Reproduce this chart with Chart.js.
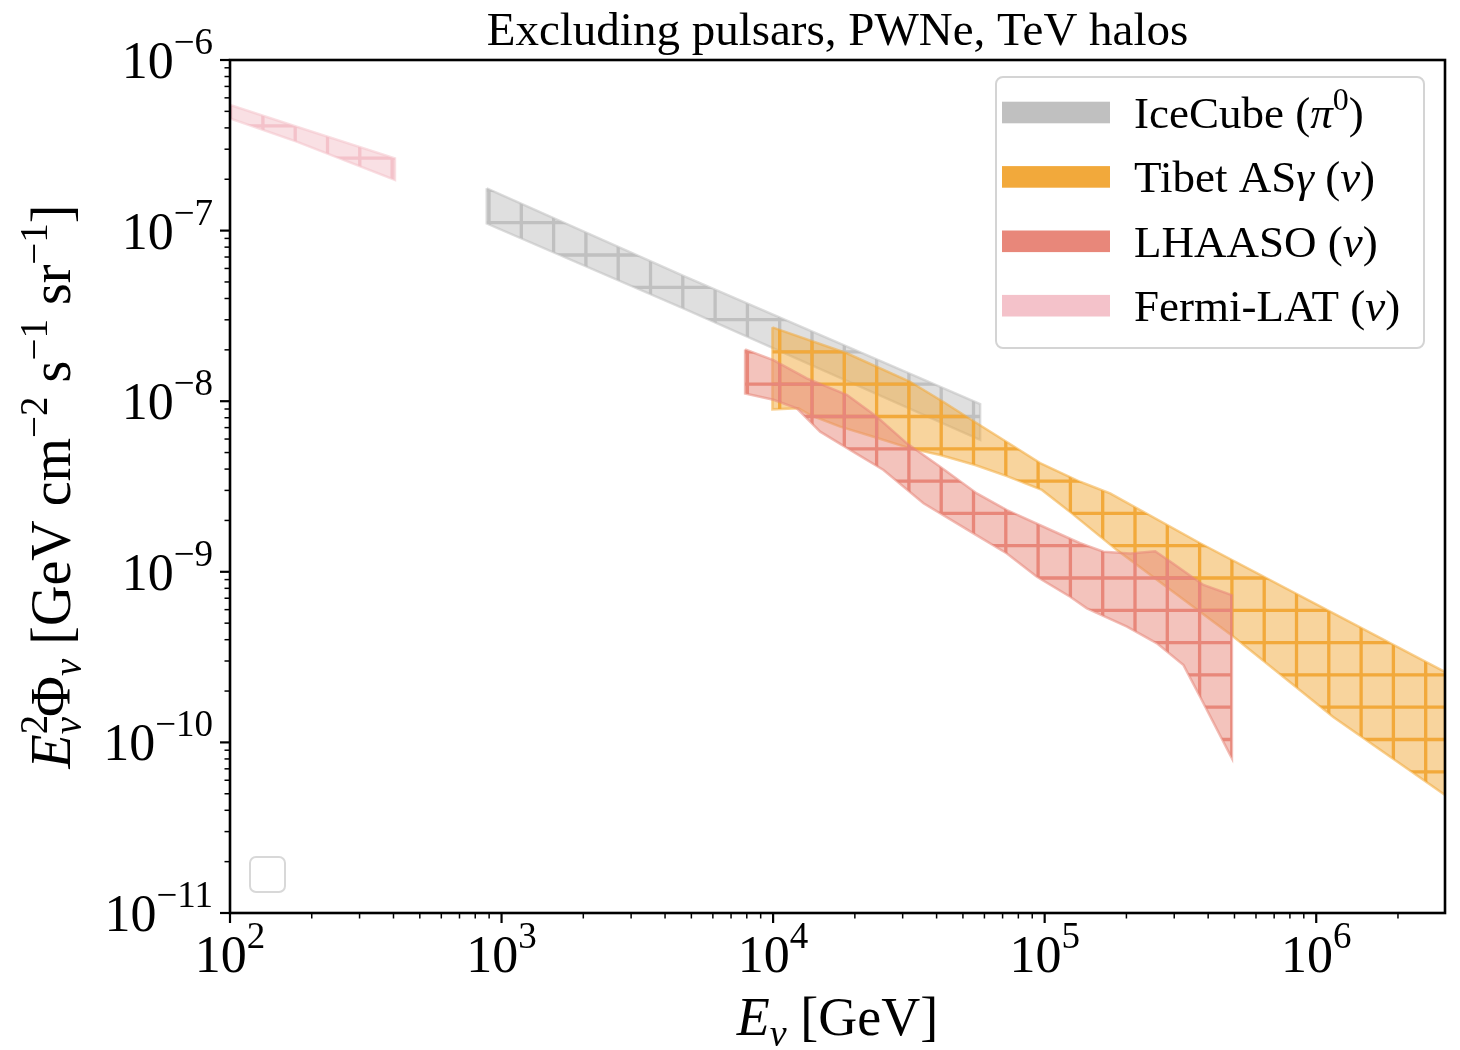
<!DOCTYPE html>
<html>
<head>
<meta charset="utf-8">
<title>Excluding pulsars, PWNe, TeV halos</title>
<script src="https://cdn.jsdelivr.net/npm/chart.js@4.4.1/dist/chart.umd.min.js"></script>
<style>
  html, body { margin: 0; padding: 0; background: #fff; }
  canvas { display: block; }
</style>
</head>
<body>
<canvas id="myChart" width="1460" height="1050"></canvas>
<script>
// band edges: E in GeV, E^2 Phi in GeV cm^-2 s^-1 sr^-1
const fermiE  = [100, 176, 405];
const fermiHi = [5.45e-7, 4.06e-7, 2.65e-7];
const fermiLo = [4.55e-7, 3.32e-7, 1.98e-7];

const iceE  = [882, 4673, 57860];
const iceHi = [1.77e-7, 5.42e-8, 9.63e-9];
const iceLo = [1.10e-7, 3.50e-8, 5.93e-9];

const tibetEHi = [9940, 18680, 31960, 42400, 56270, 76560, 96250, 135100, 174300, 373800, 1158000, 2980000];
const tibetHi  = [2.71e-8, 1.91e-8, 1.30e-8, 9.89e-9, 7.42e-9, 5.46e-9, 4.34e-9, 3.37e-9, 2.88e-9, 1.47e-9, 5.71e-10, 2.59e-10];
const tibetELo = [9940, 12400, 13690, 17650, 23410, 31960, 41220, 55460, 72580, 97660, 125960, 184500, 494800, 1155000, 2980000];
const tibetLo  = [8.96e-9, 9.08e-9, 8.30e-9, 7.09e-9, 6.19e-9, 5.29e-9, 4.84e-9, 4.23e-9, 3.64e-9, 3.02e-9, 2.20e-9, 1.34e-9, 4.17e-10, 1.41e-10, 4.92e-11];

const lhaasoEHi = [7886, 10025, 13310, 18680, 24090, 31070, 41220, 56270, 72580, 101880, 135140, 164700, 206500, 255300, 289900, 384500, 489300];
const lhaasoHi  = [2.01e-8, 1.74e-8, 1.36e-8, 1.09e-8, 8.11e-9, 5.66e-9, 4.13e-9, 2.88e-9, 2.30e-9, 1.80e-9, 1.47e-9, 1.31e-9, 1.28e-9, 1.32e-9, 1.15e-9, 8.37e-10, 7.31e-10];
const lhaasoELo = [7886, 10025, 12230, 14900, 19210, 25490, 35780, 54670, 72580, 93600, 124100, 143000, 200900, 259000, 324500, 373800, 489300];
const lhaasoLo  = [1.11e-8, 1.02e-8, 9.08e-9, 6.63e-9, 5.18e-9, 3.95e-9, 2.52e-9, 1.68e-9, 1.28e-9, 9.36e-10, 7.14e-10, 6.11e-10, 4.77e-10, 3.81e-10, 2.84e-10, 1.85e-10, 8.07e-11];

// axes
const xMin = 100, xMax = 2.98e6;
const yMin = 1e-11, yMax = 1e-6;
const xDecades = [2, 3, 4, 5, 6];
const yDecades = [-11, -10, -9, -8, -7, -6];

const titleText = 'Excluding pulsars, PWNe, TeV halos';

const SERIF = '"Liberation Serif", "DejaVu Serif", serif';
const MINUS = '\u2212';

// rgb per band
const iceRGB    = [192, 192, 192];
const tibetRGB  = [242, 169, 59];
const lhaasoRGB = [232, 135, 122];
const fermiRGB  = [244, 194, 202];

function rgba(c, a) {
  return 'rgba(' + c[0] + ',' + c[1] + ',' + c[2] + ',' + a + ')';
}

// '+' hatch: translucent fill with a square grid on top, tiled from the canvas origin
function hatch(c) {
  const P = 32.3, N = 10, S = Math.round(P * N);
  const tile = document.createElement('canvas');
  tile.width = S; tile.height = S;
  const g = tile.getContext('2d');
  g.fillStyle = rgba(c, 0.5);
  g.fillRect(0, 0, S, S);
  g.strokeStyle = rgba(c, 1);
  g.lineWidth = 3.3;
  g.beginPath();
  for (let i = 0; i < N; i++) {
    const x = 4.5 + i * P, y = 28.9 + i * P;
    g.moveTo(x, 0); g.lineTo(x, S);
    g.moveTo(0, y); g.lineTo(S, y);
  }
  g.stroke();
  return g.createPattern(tile, 'repeat');
}

// closed outline: upper edge left to right, lower edge back
function outline(eHi, hi, eLo, lo) {
  const pts = eHi.map((e, i) => ({x: e, y: hi[i]}));
  for (let i = eLo.length - 1; i >= 0; i--) pts.push({x: eLo[i], y: lo[i]});
  pts.push({x: pts[0].x, y: pts[0].y});
  return pts;
}

function band(label, pts, c, order) {
  return {
    label: label,
    data: pts,
    fill: 'shape',
    backgroundColor: hatch(c),
    borderColor: rgba(c, 0.55),
    borderWidth: 2.5,
    pointRadius: 0,
    tension: 0,
    order: order
  };
}

// text pieces: {t, size, it, dy, stack}
function runsWidth(ctx, runs) {
  let w = 0;
  for (const r of runs) {
    ctx.font = (r.it ? 'italic ' : '') + r.size + 'px ' + SERIF;
    if (!r.stack) w += ctx.measureText(r.t).width;
  }
  return w;
}

function drawRuns(ctx, runs, x, y) {
  let cx = x;
  for (const r of runs) {
    ctx.font = (r.it ? 'italic ' : '') + r.size + 'px ' + SERIF;
    ctx.fillText(r.t, cx, y + (r.dy || 0));
    if (!r.stack) cx += ctx.measureText(r.t).width;
  }
}

function power(exp) {
  const e = exp < 0 ? MINUS + (-exp) : String(exp);
  return [{t: '10', size: 52}, {t: e, size: 37, dy: -24}];
}

const L = 45, LS = 32;
const legendItems = [
  {rgb: iceRGB, runs: [{t: 'IceCube (', size: L}, {t: '\u03c0', size: L, it: true}, {t: '0', size: LS, dy: -18}, {t: ')', size: L}]},
  {rgb: tibetRGB, runs: [{t: 'Tibet AS', size: L}, {t: '\u03b3', size: L, it: true}, {t: ' (', size: L}, {t: '\u03bd', size: L, it: true}, {t: ')', size: L}]},
  {rgb: lhaasoRGB, runs: [{t: 'LHAASO (', size: L}, {t: '\u03bd', size: L, it: true}, {t: ')', size: L}]},
  {rgb: fermiRGB, runs: [{t: 'Fermi-LAT (', size: L}, {t: '\u03bd', size: L, it: true}, {t: ')', size: L}]}
];

function roundRect(ctx, x, y, w, h, r) {
  ctx.beginPath();
  ctx.moveTo(x + r, y);
  ctx.arcTo(x + w, y, x + w, y + h, r);
  ctx.arcTo(x + w, y + h, x, y + h, r);
  ctx.arcTo(x, y + h, x, y, r);
  ctx.arcTo(x, y, x + w, y, r);
  ctx.closePath();
}

// frame, log ticks, labels, title and legend drawn after the bands
const decor = {
  id: 'decor',
  afterDraw(chart) {
    const ctx = chart.ctx, a = chart.chartArea;
    const xs = chart.scales.x, ys = chart.scales.y;
    ctx.save();
    ctx.fillStyle = '#000';
    ctx.strokeStyle = '#000';

    // ticks
    const tick = (x1, y1, x2, y2, w) => {
      ctx.lineWidth = w;
      ctx.beginPath(); ctx.moveTo(x1, y1); ctx.lineTo(x2, y2); ctx.stroke();
    };
    xDecades.forEach(n => {
      for (let k = 1; k < 10; k++) {
        const v = k * Math.pow(10, n);
        if (v < xMin || v > xMax) continue;
        const px = xs.getPixelForValue(v);
        tick(px, a.bottom, px, a.bottom + (k === 1 ? 10 : 5.5), k === 1 ? 2.2 : 1.5);
      }
    });
    yDecades.forEach(n => {
      for (let k = 1; k < 10; k++) {
        const v = k * Math.pow(10, n);
        if (v < yMin * 0.999 || v > yMax * 1.001) continue;
        const py = ys.getPixelForValue(v);
        tick(a.left, py, a.left - (k === 1 ? 10 : 5.5), py, k === 1 ? 2.2 : 1.5);
      }
    });

    // frame
    ctx.lineWidth = 2.6;
    ctx.strokeRect(a.left, a.top, a.right - a.left, a.bottom - a.top);

    // tick labels
    ctx.textBaseline = 'alphabetic';
    ctx.textAlign = 'left';
    xDecades.forEach(n => {
      const runs = power(n);
      const px = xs.getPixelForValue(Math.pow(10, n));
      drawRuns(ctx, runs, px - runsWidth(ctx, runs) / 2, a.bottom + 59);
    });
    yDecades.forEach(n => {
      const runs = power(n);
      const py = ys.getPixelForValue(Math.pow(10, n));
      drawRuns(ctx, runs, a.left - 17 - runsWidth(ctx, runs), py + 18);
    });

    // title
    const tRuns = [{t: titleText, size: 47}];
    drawRuns(ctx, tRuns, (a.left + a.right) / 2 - runsWidth(ctx, tRuns) / 2, 45);

    // x axis label
    const xl = [{t: 'E', size: 54, it: true}, {t: '\u03bd', size: 38, it: true, dy: 11}, {t: ' [GeV]', size: 54}];
    drawRuns(ctx, xl, (a.left + a.right) / 2 - runsWidth(ctx, xl) / 2, 1035);

    // y axis label
    const yl = [
      {t: 'E', size: 56, it: true},
      {t: '2', size: 39, dy: -23, stack: true},
      {t: '\u03bd', size: 39, it: true, dy: 11},
      {t: '\u03a6', size: 56},
      {t: '\u03bd', size: 39, it: true, dy: 11},
      {t: ' [GeV cm', size: 56},
      {t: MINUS + '2', size: 39, dy: -23},
      {t: ' s', size: 56},
      {t: MINUS + '1', size: 39, dy: -23},
      {t: ' sr', size: 56},
      {t: MINUS + '1', size: 39, dy: -23},
      {t: ']', size: 56}
    ];
    ctx.save();
    ctx.translate(70, (a.top + a.bottom) / 2);
    ctx.rotate(-Math.PI / 2);
    drawRuns(ctx, yl, -runsWidth(ctx, yl) / 2, 0);
    ctx.restore();

    // legend
    ctx.fillStyle = 'rgba(255,255,255,0.8)';
    roundRect(ctx, 996, 77, 428, 271, 7);
    ctx.fill();
    ctx.strokeStyle = '#d4d4d4';
    ctx.lineWidth = 2;
    ctx.stroke();
    legendItems.forEach((it, i) => {
      const top = 101.7 + i * 64.4;
      ctx.fillStyle = rgba(it.rgb, 1);
      ctx.fillRect(1002, top, 108, 21.6);
      ctx.fillStyle = '#000';
      drawRuns(ctx, it.runs, 1134, top + 26);
    });

    // empty legend frame, lower left
    roundRect(ctx, 250, 857, 35, 35, 6);
    ctx.strokeStyle = '#d8d8d8';
    ctx.lineWidth = 2;
    ctx.stroke();

    ctx.restore();
  }
};

const ctx = document.getElementById('myChart').getContext('2d');
const myChart = new Chart(ctx, {
  type: 'line',
  data: {
    datasets: [
      band('IceCube', outline(iceE, iceHi, iceE, iceLo), iceRGB, 4),
      band('Tibet AS\u03b3', outline(tibetEHi, tibetHi, tibetELo, tibetLo), tibetRGB, 3),
      band('LHAASO', outline(lhaasoEHi, lhaasoHi, lhaasoELo, lhaasoLo), lhaasoRGB, 2),
      band('Fermi-LAT', outline(fermiE, fermiHi, fermiE, fermiLo), fermiRGB, 1)
    ]
  },
  options: {
    responsive: false,
    animation: false,
    devicePixelRatio: 1,
    events: [],
    layout: {padding: {left: 0, right: 15, top: 60, bottom: 0}},
    scales: {
      x: {
        type: 'logarithmic', min: xMin, max: xMax,
        grid: {display: false}, border: {display: false}, ticks: {display: false},
        afterFit(s) { s.height = 137; }
      },
      y: {
        type: 'logarithmic', min: yMin, max: yMax,
        grid: {display: false}, border: {display: false}, ticks: {display: false},
        afterFit(s) { s.width = 230; }
      }
    },
    plugins: {
      legend: {display: false},
      tooltip: {enabled: false},
      title: {display: false}
    }
  },
  plugins: [decor]
});
</script>
</body>
</html>
